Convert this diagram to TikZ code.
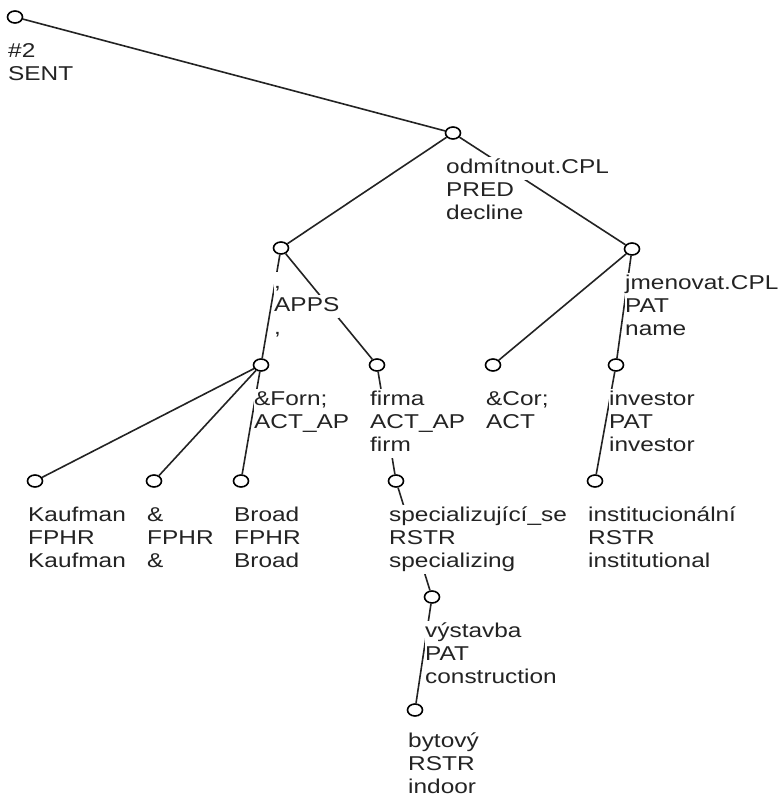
\documentclass[tikz,border=0pt]{standalone}
\usepackage{fontspec}
\setmainfont{Liberation Sans}[FakeStretch=1.22]
\usetikzlibrary{positioning,shapes.geometric}
\definecolor{ink}{RGB}{35,35,35}
\setlength{\fboxsep}{0pt}
\newcommand{\bgline}[1]{\colorbox{white}{\strut #1}}

\begin{document}
\begin{tikzpicture}[x=1pt,y=-1pt,
    tnode/.style={draw,ellipse,minimum width=15pt,minimum height=12pt,inner sep=0pt,line width=1.6pt,fill=white},
    tlabel/.style={anchor=north west,inner sep=0pt,align=left,text=ink,font=\fontsize{20}{23}\selectfont},
    tedge/.style={line width=1.6pt,ink}]
  \useasboundingbox[fill=white] (0,0) rectangle (781,800);
  \foreach \n/\x/\y in {root/15/17, pred/453/133, apps/281/248, jmen/632/249,
                        forn/261/365, firma/377/365, cor/493/365, inv/616/365,
                        kauf/35/481, amp/154/481, broad/241/481, spec/396/481, inst/595/481,
                        vyst/432/597, byt/415/710}
    \node[tnode] (\n) at (\x,\y) {};
  \foreach \a/\b in {root/pred, pred/apps, pred/jmen, apps/forn, apps/firma, jmen/cor, jmen/inv,
                     forn/kauf, forn/amp, forn/broad, firma/spec, inv/inst, spec/vyst, vyst/byt}
    \draw[tedge] (\a) -- (\b);
  \node[tlabel,below right=24pt and -7pt of root.center] (root-l) {\bgline{\#2}\\\bgline{SENT}};
  \node[tlabel,below right=24pt and -7pt of pred.center] (pred-l) {\bgline{odmítnout.CPL}\\\bgline{PRED}\\\bgline{decline}};
  \node[tlabel,below right=24pt and -7pt of apps.center] (apps-l) {\bgline{,}\\\bgline{APPS}\\\bgline{,}};
  \node[tlabel,below right=24pt and -7pt of jmen.center] (jmen-l) {\bgline{jmenovat.CPL}\\\bgline{PAT}\\\bgline{name}};
  \node[tlabel,below right=24pt and -7pt of forn.center] (forn-l) {\bgline{\&Forn;}\\\bgline{ACT\_AP}};
  \node[tlabel,below right=24pt and -7pt of firma.center] (firma-l) {\bgline{firma}\\\bgline{ACT\_AP}\\\bgline{firm}};
  \node[tlabel,below right=24pt and -7pt of cor.center] (cor-l) {\bgline{\&Cor;}\\\bgline{ACT}};
  \node[tlabel,below right=24pt and -7pt of inv.center] (inv-l) {\bgline{investor}\\\bgline{PAT}\\\bgline{investor}};
  \node[tlabel,below right=24pt and -7pt of kauf.center] (kauf-l) {\bgline{Kaufman}\\\bgline{FPHR}\\\bgline{Kaufman}};
  \node[tlabel,below right=24pt and -7pt of amp.center] (amp-l) {\bgline{\&}\\\bgline{FPHR}\\\bgline{\&}};
  \node[tlabel,below right=24pt and -7pt of broad.center] (broad-l) {\bgline{Broad}\\\bgline{FPHR}\\\bgline{Broad}};
  \node[tlabel,below right=24pt and -7pt of spec.center] (spec-l) {\bgline{specializující\_se}\\\bgline{RSTR}\\\bgline{specializing}};
  \node[tlabel,below right=24pt and -7pt of inst.center] (inst-l) {\bgline{institucionální}\\\bgline{RSTR}\\\bgline{institutional}};
  \node[tlabel,below right=24pt and -7pt of vyst.center] (vyst-l) {\bgline{výstavba}\\\bgline{PAT}\\\bgline{construction}};
  \node[tlabel,below right=21pt and -7pt of byt.center] (byt-l) {\bgline{bytový}\\\bgline{RSTR}\\\bgline{indoor}};
\end{tikzpicture}
\end{document}
